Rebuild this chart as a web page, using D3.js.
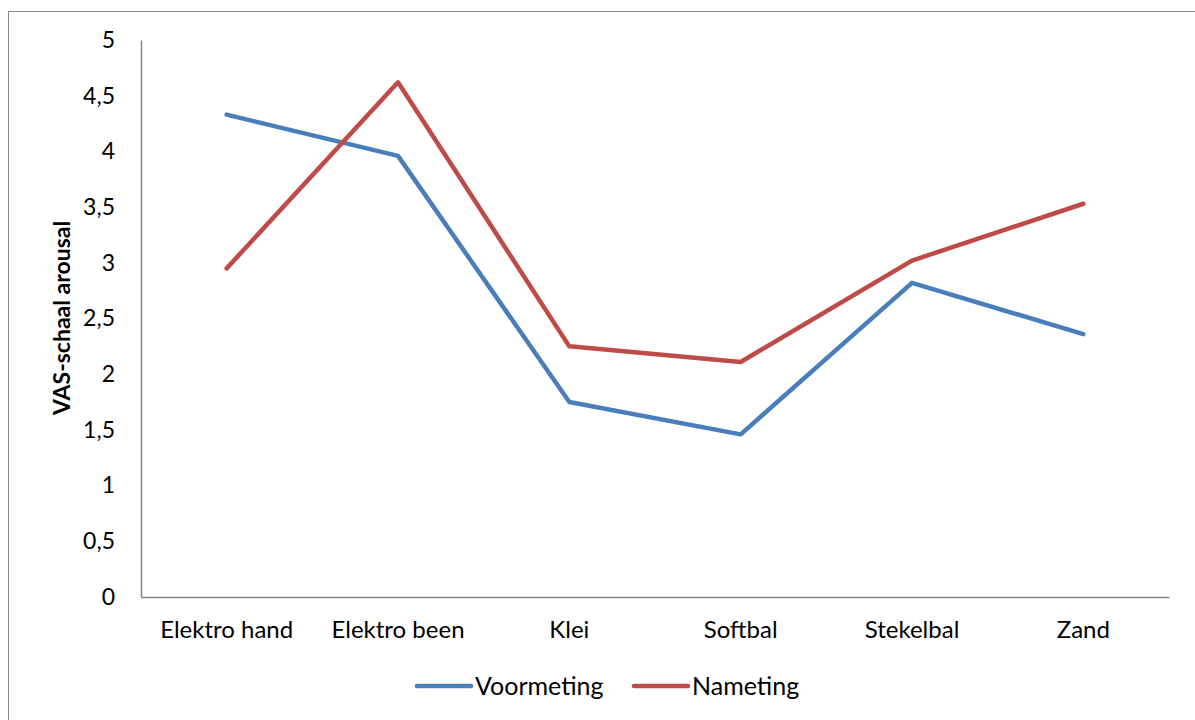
<!DOCTYPE html>
<html>
<head>
<meta charset="utf-8">
<script src="https://cdn.jsdelivr.net/npm/d3@7"></script>
<style>
  html, body { margin: 0; padding: 0; background: #fff; }
  svg text { font-family: Lato, "Open Sans", sans-serif; fill: #000; }
</style>
</head>
<body>
<svg id="chart" width="1195" height="720"></svg>
<script>
// Categories and series (VAS-schaal arousal)
const categories = ["Elektro hand", "Elektro been", "Klei", "Softbal", "Stekelbal", "Zand"];
const voormeting = [4.33, 3.96, 1.75, 1.46, 2.82, 2.36];
const nameting = [2.95, 4.62, 2.25, 2.11, 3.02, 3.53];
const yTicks = [0, 0.5, 1, 1.5, 2, 2.5, 3, 3.5, 4, 4.5, 5];
const seriesNames = ["Voormeting", "Nameting"];
const seriesColors = ["#4A7EBB", "#BE4B48"];

const svg = d3.select("#chart");

// outer chart frame
svg.append("rect")
  .attr("x", 8.5).attr("y", 11.5)
  .attr("width", 1195).attr("height", 720)
  .attr("fill", "none").attr("stroke", "#898989").attr("stroke-width", 1);

const plotL = 141, plotR = 1169, plotT = 40, plotB = 597;

const x = d3.scaleBand().domain(categories).range([plotL, plotR]);
const y = d3.scaleLinear().domain([0, 5]).range([plotB, plotT]);

// y axis
const yAxis = d3.axisLeft(y).tickValues(yTicks)
  .tickFormat(d => String(d).replace(".", ","))
  .tickSize(0).tickPadding(26);
const gy = svg.append("g").attr("transform", `translate(${plotL},0)`).call(yAxis);
gy.select(".domain").attr("stroke", "#868686").attr("stroke-width", 1.5);
gy.selectAll("text").style("font-size", "23px");

// x axis
const xAxis = d3.axisBottom(x).tickSize(0).tickPadding(24);
const gx = svg.append("g").attr("transform", `translate(0,${plotB})`).call(xAxis);
gx.select(".domain").attr("stroke", "#868686").attr("stroke-width", 1.5);
gx.selectAll("text").style("font-size", "24px");

// y axis title
svg.append("text")
  .attr("transform", `translate(70,318) rotate(-90)`)
  .attr("text-anchor", "middle")
  .style("font-size", "23px").style("font-weight", "bold")
  .text("VAS-schaal arousal");

// lines
const line = d3.line()
  .x((d, i) => x(categories[i]) + x.bandwidth() / 2)
  .y(d => y(d));

[voormeting, nameting].forEach((vals, k) => {
  svg.append("path")
    .datum(vals)
    .attr("d", line)
    .attr("fill", "none")
    .attr("stroke", seriesColors[k])
    .attr("stroke-width", 4.5)
    .attr("stroke-linejoin", "round")
    .attr("stroke-linecap", "round");
});

// legend
const legendX = [417, 634];
seriesNames.forEach((name, k) => {
  const g = svg.append("g").attr("transform", `translate(${legendX[k]},686)`);
  g.append("line").attr("x1", 0).attr("x2", 54).attr("y1", 0).attr("y2", 0)
    .attr("stroke", seriesColors[k]).attr("stroke-width", 4.5).attr("stroke-linecap", "round");
  g.append("text").attr("x", 58).attr("y", 0).attr("dy", "0.35em")
    .style("font-size", "25px").text(name);
});
</script>
</body>
</html>
